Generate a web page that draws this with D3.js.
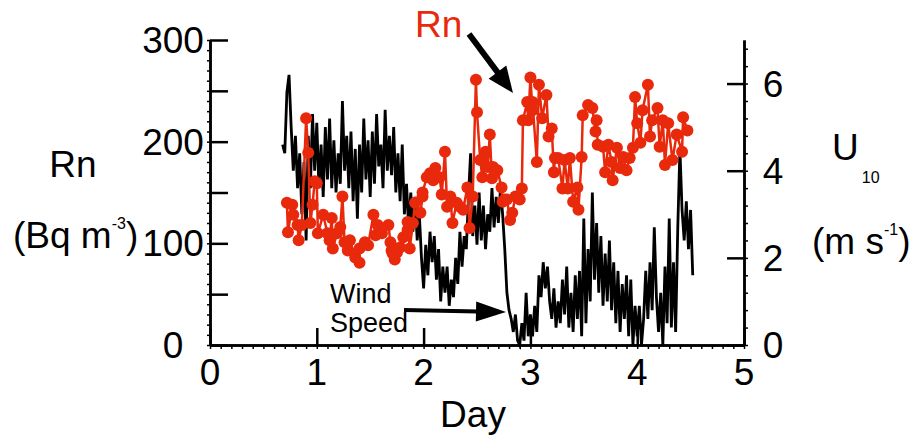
<!DOCTYPE html>
<html>
<head>
<meta charset="utf-8">
<script src="https://d3js.org/d3.v7.min.js"></script>
<style>
  body { margin: 0; background: #fff; }
  text { font-family: "Liberation Sans", Arial, Helvetica, sans-serif; }
</style>
</head>
<body>
<svg id="viz" width="915" height="436"></svg>

<script>
var width = 915;
var height = 436;

// Rn concentration (Bq m-3)
var rnDay = [0.72,0.73,0.77,0.78,0.82,0.83,0.86,0.90,0.92,0.94,
  0.96,0.98,1.00,1.01,1.06,1.10,1.12,1.14,1.15,1.19,
  1.22,1.24,1.26,1.29,1.31,1.36,1.40,1.40,1.45,1.48,
  1.53,1.55,1.57,1.61,1.67,1.69,1.70,1.71,1.73,1.75,
  1.78,1.81,1.85,1.85,1.87,1.90,1.92,1.97,1.99,1.99,
  2.03,2.06,2.09,2.11,2.15,2.17,2.20,2.22,2.25,2.27,
  2.31,2.34,2.37,2.41,2.43,2.46,2.49,2.50,2.53,2.55,
  2.58,2.60,2.62,2.64,2.65,2.67,2.69,2.73,2.74,2.76,
  2.78,2.81,2.83,2.86,2.88,2.90,2.92,2.93,2.97,2.98,
  3.00,3.02,3.02,3.06,3.08,3.11,3.15,3.17,3.20,3.22,
  3.23,3.26,3.30,3.32,3.35,3.37,3.40,3.44,3.45,3.48,
  3.49,3.54,3.58,3.61,3.62,3.63,3.68,3.70,3.73,3.76,
  3.77,3.81,3.84,3.87,3.90,3.93,3.96,3.98,4.00,4.03,
  4.05,4.10,4.12,4.14,4.19,4.21,4.24,4.26,4.29,4.33,
  4.37,4.42,4.43,4.47];
var rnValue = [140,111,138,128,118,103,118,223,189,120,
  138,161,159,110,128,110,103,125,95,110,
  116,146,101,93,103,86,81,95,101,98,
  128,108,118,110,118,101,93,90,84,91,
  96,106,113,121,95,120,140,130,146,150,
  165,169,162,174,165,148,190,136,146,120,
  140,136,133,155,115,146,261,229,182,165,
  190,175,207,164,175,170,172,155,141,143,
  143,123,130,146,146,143,154,221,239,221,
  263,231,239,180,256,223,246,205,213,170,
  184,184,154,182,154,184,141,155,133,185,
  226,236,233,210,221,197,195,170,197,180,
  162,194,174,185,172,184,194,244,218,199,
  231,256,205,221,233,195,221,177,218,182,
  207,190,224,211];

// wind speed U10 (m s-1), one value every 0.02 day from windStart
var windStart = 0.68;
var windStep = 0.02;
var windSpeed = [4.6,
  4.4,5.8,6.2,5.0,4.0,
  4.8,3.6,4.4,3.0,4.2,
  2.4,4.8,3.6,5.3,4.0,
  5.1,3.6,4.6,3.4,5.0,
  3.8,5.2,3.6,4.7,3.5,
  4.4,3.7,5.6,4.0,4.8,
  3.6,4.9,3.3,4.5,2.9,
  4.6,3.5,5.2,3.8,4.7,
  3.4,4.9,3.7,5.3,4.1,
  4.6,3.6,5.4,4.0,4.8,
  3.9,5.0,3.5,4.4,3.3,
  4.6,3.0,3.7,2.7,3.5,
  2.6,3.4,2.4,3.0,2.0,
  1.3,2.3,1.6,2.6,1.9,
  2.5,1.5,2.2,1.0,1.8,
  1.2,1.8,0.9,1.5,1.1,
  2.0,1.4,2.6,1.8,2.5,
  2.2,3.4,4.4,2.5,3.2,
  2.3,3.5,2.4,3.2,2.2,
  3.0,2.6,3.6,2.7,3.4,
  2.8,3.6,3.0,2.2,1.2,
  0.8,0.6,0.3,0.7,0.1,
  0.0,0.5,0.1,1.2,0.2,
  0.7,0.2,0.9,0.3,1.6,
  1.1,1.9,1.3,1.8,1.0,
  0.6,1.3,0.4,1.0,0.5,
  1.5,0.7,1.8,0.4,1.2,
  0.3,1.6,0.6,1.7,0.2,
  2.9,0.5,2.2,1.0,3.5,
  1.5,2.8,1.2,2.5,0.9,
  2.1,1.0,2.4,0.8,1.9,
  0.5,1.7,0.3,1.4,0.6,
  1.6,0.2,1.5,0.0,0.9,
  0.2,0.9,0.0,0.6,1.7,
  0.6,1.9,0.8,2.7,1.1,
  0.3,1.2,0.0,1.8,0.5,
  2.9,0.4,1.9,0.3,2.7,
  4.5,3.1,2.4,3.3,2.2,
  3.1,1.6];

var dayTicks = [0,1,2,3,4,5];
var rnTicks = [0,100,200,300];
var windTicks = [0,2,4,6];

var red = "#e8290c";

var svg = d3.select("#viz");

var x = d3.scaleLinear().domain([0, 5]).range([210, 744]);
var yRn = d3.scaleLinear().domain([0, 300]).range([345, 40]);
var yU = d3.scaleLinear().domain([0, 7]).range([345, 40]);

// wind speed line
var wind = windSpeed.map(function(v, i) { return {day: windStart + i * windStep, u: v}; });
svg.append("path")
    .datum(wind)
    .attr("fill", "none")
    .attr("stroke", "#000")
    .attr("stroke-width", 2.8)
    .attr("d", d3.line().x(function(d) { return x(d.day); }).y(function(d) { return yU(d.u); }));

// radon line + dots
var rn = rnDay.map(function(d, i) { return {day: d, v: rnValue[i]}; });
svg.append("path")
    .datum(rn)
    .attr("fill", "none")
    .attr("stroke", red)
    .attr("stroke-width", 2.5)
    .attr("d", d3.line().x(function(d) { return x(d.day); }).y(function(d) { return yRn(d.v); }));
svg.append("g").selectAll("circle")
    .data(rn)
    .enter().append("circle")
    .attr("cx", function(d) { return x(d.day); })
    .attr("cy", function(d) { return yRn(d.v); })
    .attr("r", 6)
    .attr("fill", red);

// axes
function styleAxis(g, w) {
  g.selectAll(".domain").attr("stroke", "#000").attr("stroke-width", 2.5);
  g.selectAll(".tick line").attr("stroke", "#000").attr("stroke-width", w);
  g.selectAll("text").remove();
}

svg.append("g").attr("transform", "translate(210,0)")
    .call(d3.axisLeft(yRn).tickValues(d3.range(0, 301, 10)).tickSize(3).tickSizeOuter(0))
    .call(styleAxis, 1.5);
svg.append("g").attr("transform", "translate(210,0)")
    .call(d3.axisLeft(yRn).tickValues(d3.range(0, 301, 50)).tickSize(-18).tickSizeOuter(0))
    .call(styleAxis, 2.5);

svg.append("g").attr("transform", "translate(0,345)")
    .call(d3.axisBottom(x).tickValues(d3.range(0, 50.5, 1).map(function(d) { return d / 10; })).tickSize(4).tickSizeOuter(0))
    .call(styleAxis, 1.5);
svg.append("g").attr("transform", "translate(0,345)")
    .call(d3.axisBottom(x).tickValues(dayTicks).tickSize(-17).tickSizeOuter(0))
    .call(styleAxis, 2.5);

svg.append("g").attr("transform", "translate(744,0)")
    .call(d3.axisRight(yU).tickValues(d3.range(0, 71, 4).map(function(d) { return d / 10; })).tickSize(4).tickSizeOuter(0))
    .call(styleAxis, 1.5);
svg.append("g").attr("transform", "translate(744,0)")
    .call(d3.axisRight(yU).tickValues(windTicks).tickSize(-17).tickSizeOuter(0))
    .call(styleAxis, 2.5);

// tick labels
svg.append("g").selectAll("text")
    .data(rnTicks).enter().append("text")
    .attr("x", 173).attr("y", function(d) { return yRn(d) + 13; })
    .attr("text-anchor", "middle").attr("font-size", 37)
    .text(function(d) { return d; });
svg.append("g").selectAll("text")
    .data(dayTicks).enter().append("text")
    .attr("x", function(d) { return x(d); }).attr("y", 385)
    .attr("text-anchor", "middle").attr("font-size", 37)
    .text(function(d) { return d; });
svg.append("g").selectAll("text")
    .data(windTicks).enter().append("text")
    .attr("x", 773).attr("y", function(d) { return yU(d) + 13; })
    .attr("text-anchor", "middle").attr("font-size", 37)
    .text(function(d) { return d; });

// axis titles
svg.append("text").attr("x", 473).attr("y", 427).attr("text-anchor", "middle")
    .attr("font-size", 37).text("Day");

svg.append("text").attr("x", 73).attr("y", 177).attr("text-anchor", "middle")
    .attr("font-size", 37).text("Rn");
var t1 = svg.append("text").attr("x", 13).attr("y", 248).attr("font-size", 37);
t1.append("tspan").text("(Bq m");
t1.append("tspan").attr("font-size", 16).attr("dy", -19).text("-3");
t1.append("tspan").attr("dy", 19).text(")");

var t2 = svg.append("text").attr("x", 832).attr("y", 160).attr("font-size", 37);
t2.append("tspan").text("U");
t2.append("tspan").attr("font-size", 16).attr("dx", 3).attr("dy", 23).text("10");
var t3 = svg.append("text").attr("x", 812).attr("y", 254).attr("font-size", 37);
t3.append("tspan").text("(m s");
t3.append("tspan").attr("font-size", 16).attr("dy", -19).text("-1");
t3.append("tspan").attr("dy", 19).text(")");

// annotations
function arrow(x1, y1, x2, y2, headLen, headW, shaftW) {
  var dx = x2 - x1, dy = y2 - y1, len = Math.sqrt(dx * dx + dy * dy);
  var ux = dx / len, uy = dy / len, px = -uy, py = ux;
  var bx = x2 - ux * headLen, by = y2 - uy * headLen;
  svg.append("line")
      .attr("x1", x1).attr("y1", y1).attr("x2", bx + ux * 2).attr("y2", by + uy * 2)
      .attr("stroke", "#000").attr("stroke-width", shaftW);
  svg.append("path")
      .attr("d", "M" + x2 + "," + y2 +
                 "L" + (bx + px * headW / 2) + "," + (by + py * headW / 2) +
                 "L" + (bx - px * headW / 2) + "," + (by - py * headW / 2) + "Z")
      .attr("fill", "#000");
}

svg.append("text").attr("x", 415).attr("y", 37).attr("font-size", 37)
    .attr("fill", red).text("Rn");
arrow(469, 34, 513, 93, 26, 22, 6);

svg.append("text").attr("x", 330).attr("y", 303).attr("font-size", 27).text("Wind");
svg.append("text").attr("x", 330).attr("y", 332).attr("font-size", 27).text("Speed");
arrow(404, 310, 506, 312, 30, 20, 4);
</script>
</body>
</html>
